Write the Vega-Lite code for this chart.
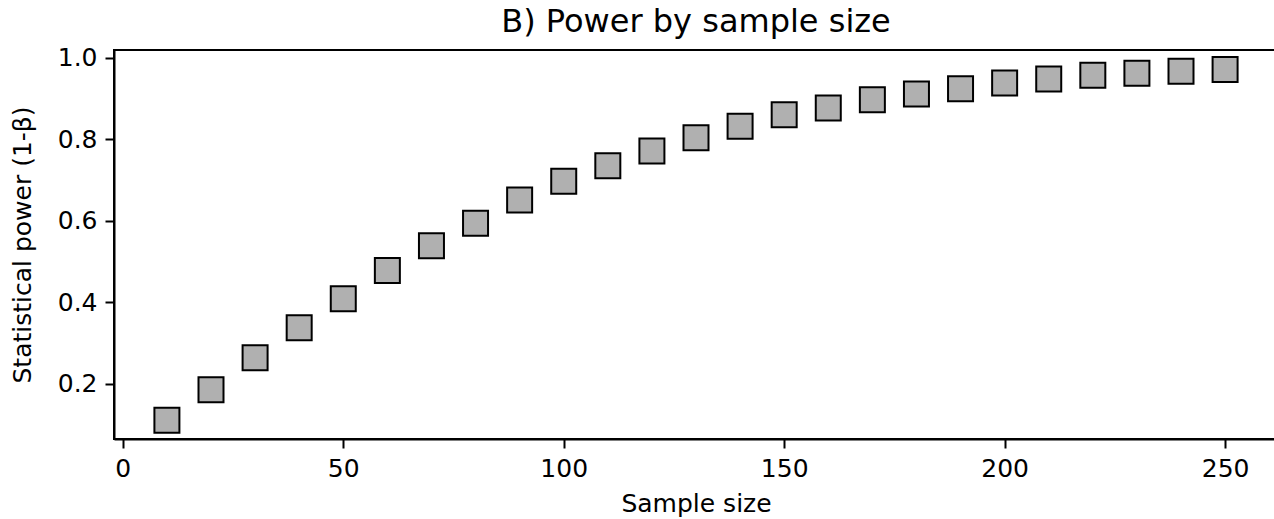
{
  "$schema": "https://vega.github.io/schema/vega-lite/v6.json",
  "autosize": "none",
  "padding": {"left": 114, "top": 50, "right": 0, "bottom": 80},
  "width": 1164,
  "height": 389,
  "background": "white",
  "title": {
    "text": "B)  Power by sample size",
    "font": "DejaVu Sans",
    "fontSize": 32,
    "fontWeight": "normal",
    "color": "black",
    "anchor": "middle",
    "frame": "group",
    "baseline": "alphabetic",
    "offset": 15,
    "dy": 33
  },
  "data": {
    "values": [
      {"n": 10, "power": 0.111},
      {"n": 20, "power": 0.186},
      {"n": 30, "power": 0.264},
      {"n": 40, "power": 0.338},
      {"n": 50, "power": 0.409},
      {"n": 60, "power": 0.478},
      {"n": 70, "power": 0.539},
      {"n": 80, "power": 0.594},
      {"n": 90, "power": 0.651},
      {"n": 100, "power": 0.697},
      {"n": 110, "power": 0.735},
      {"n": 120, "power": 0.771},
      {"n": 130, "power": 0.804},
      {"n": 140, "power": 0.832},
      {"n": 150, "power": 0.86},
      {"n": 160, "power": 0.877},
      {"n": 170, "power": 0.897},
      {"n": 180, "power": 0.911},
      {"n": 190, "power": 0.924},
      {"n": 200, "power": 0.938},
      {"n": 210, "power": 0.948},
      {"n": 220, "power": 0.957},
      {"n": 230, "power": 0.962},
      {"n": 240, "power": 0.967},
      {"n": 250, "power": 0.971}
    ]
  },
  "mark": {
    "type": "point",
    "shape": "square",
    "size": 625,
    "filled": true,
    "fill": "#b0b0b0",
    "stroke": "black",
    "strokeWidth": 2,
    "opacity": 1,
    "clip": false
  },
  "encoding": {
    "x": {
      "field": "n",
      "type": "quantitative",
      "scale": {"domain": [-2, 262], "nice": false, "zero": false},
      "axis": {
        "title": "Sample size",
        "values": [0, 50, 100, 150, 200, 250],
        "titlePadding": 10
      }
    },
    "y": {
      "field": "power",
      "type": "quantitative",
      "scale": {"domain": [0.065, 1.019], "nice": false, "zero": false},
      "axis": {
        "title": "Statistical power (1-β)",
        "values": [0.2, 0.4, 0.6, 0.8, 1.0],
        "format": ".1f",
        "titlePadding": 22
      }
    }
  },
  "config": {
    "view": {"stroke": "black", "strokeWidth": 2},
    "axis": {
      "grid": false,
      "domainColor": "black",
      "domainWidth": 2,
      "tickColor": "black",
      "tickWidth": 2,
      "tickSize": 9,
      "labelFont": "DejaVu Sans",
      "labelFontSize": 25,
      "labelColor": "black",
      "labelPadding": 8,
      "titleFont": "DejaVu Sans",
      "titleFontSize": 25,
      "titleFontWeight": "normal",
      "titleColor": "black"
    }
  }
}
